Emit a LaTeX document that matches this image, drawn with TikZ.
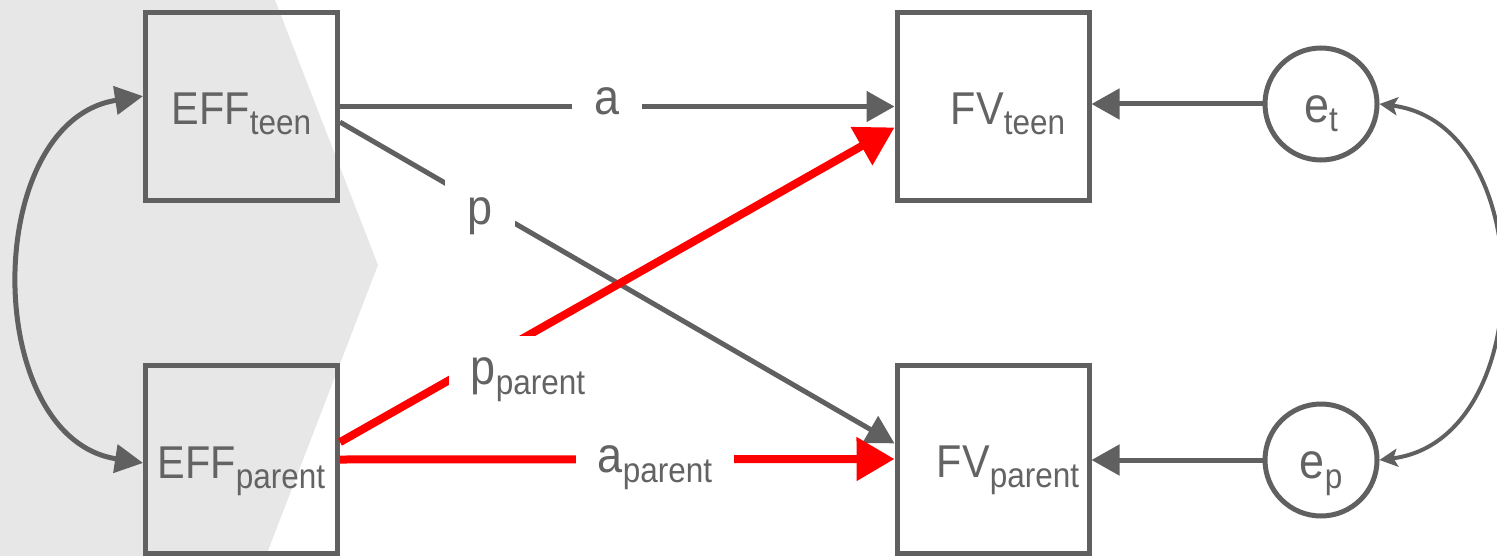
\documentclass[tikz,border=0pt]{standalone}
\usepackage{fontspec}
\setmainfont{Liberation Sans}[FakeStretch=0.9]
\usepackage{tikz}
\usetikzlibrary{arrows.meta,calc}
\definecolor{pathgray}{RGB}{96,96,96}
\definecolor{inkgray}{RGB}{99,99,99}
\definecolor{shadegray}{RGB}{231,231,231}
\definecolor{effred}{RGB}{255,0,0}
\newcommand{\subtxt}[1]{\raisebox{-5pt}{\fontsize{17.5}{20}\selectfont #1}}

\begin{document}
\begin{tikzpicture}[x=0.5pt,y=-0.5pt,
    varbox/.style={draw=pathgray, line width=2.5pt, minimum width=96pt, minimum height=94pt,
        inner sep=0pt, text=inkgray, text height=18.5pt, text depth=0pt, font=\fontsize{23}{28}\selectfont},
    errnode/.style={circle, draw=pathgray, line width=2.5pt, minimum size=56pt, inner sep=0pt,
        text=inkgray, text height=18pt, text depth=0pt, font=\fontsize{25}{30}\selectfont},
    grayarrow/.style={draw=pathgray, line width=2.5pt, -{Triangle[length=14pt,width=15pt]}},
    redarrow/.style={draw=effred, line width=4pt, -{Triangle[length=19pt,width=21pt]}},
    lbl/.style={fill=white, text=inkgray, inner sep=11pt, font=\fontsize{25}{30}\selectfont}]
    \useasboundingbox (0,0) rectangle (1497,556);

    % Shaded chevron behind the predictors
    \fill[shadegray] (0,0) -- (275,0) -- (378,265) -- (266,556) -- (0,556) -- cycle;

    % Observed variables
    \node[varbox] (teen) at (241.5,106.5) {EFF\subtxt{teen}};
    \node[varbox] (parent) at (241.5,459.5) {EFF\subtxt{parent}};
    \node[varbox] (fvteen) at (993,106.5) {\hspace*{15pt}FV\subtxt{teen}};
    \node[varbox] (fvparent) at (993,459) {\hspace*{15pt}FV\subtxt{parent}};

    % Residuals
    \node[errnode] (et) at (1321,104) {e\subtxt{t}};
    \node[errnode] (ep) at (1321,460) {e\subtxt{p}};

    % Actor and partner paths
    \draw[grayarrow] (teen.east) -- (fvteen.west);
    \draw[grayarrow] (teen.351) -- (fvparent.171);
    \draw[redarrow] (parent.10) -- (fvteen.192);
    \draw[redarrow] (parent.east) -- (fvparent.west);

    % Residual paths
    \draw[grayarrow] (et.west) -- (et.west -| fvteen.east);
    \draw[grayarrow] (ep.west) -- (ep.west -| fvparent.east);

    % Covariances
    \draw[draw=pathgray, line width=2.5pt, {Triangle[length=14pt,width=14pt]}-{Triangle[length=14pt,width=14pt]}]
        (teen.174) .. controls +(-162,25) and +(-162,-25) .. (parent.182);
    \draw[draw=pathgray, line width=2pt, {Stealth[length=9pt,width=9pt,inset=2pt]}-{Stealth[length=9pt,width=9pt,inset=2pt]}]
        (et.east) .. controls +(160,20) and +(160,-20) .. (ep.east);

    % Path labels
    \node[lbl] (lbla) at (607,101) {a};
    \node[lbl] (lblp) at (480,216) {p};
    \node[lbl] (lblpp) at (528,380) {p\subtxt{parent}};
    \node[lbl] (lblap) at (655,468) {a\subtxt{parent}};
\end{tikzpicture}
\end{document}
